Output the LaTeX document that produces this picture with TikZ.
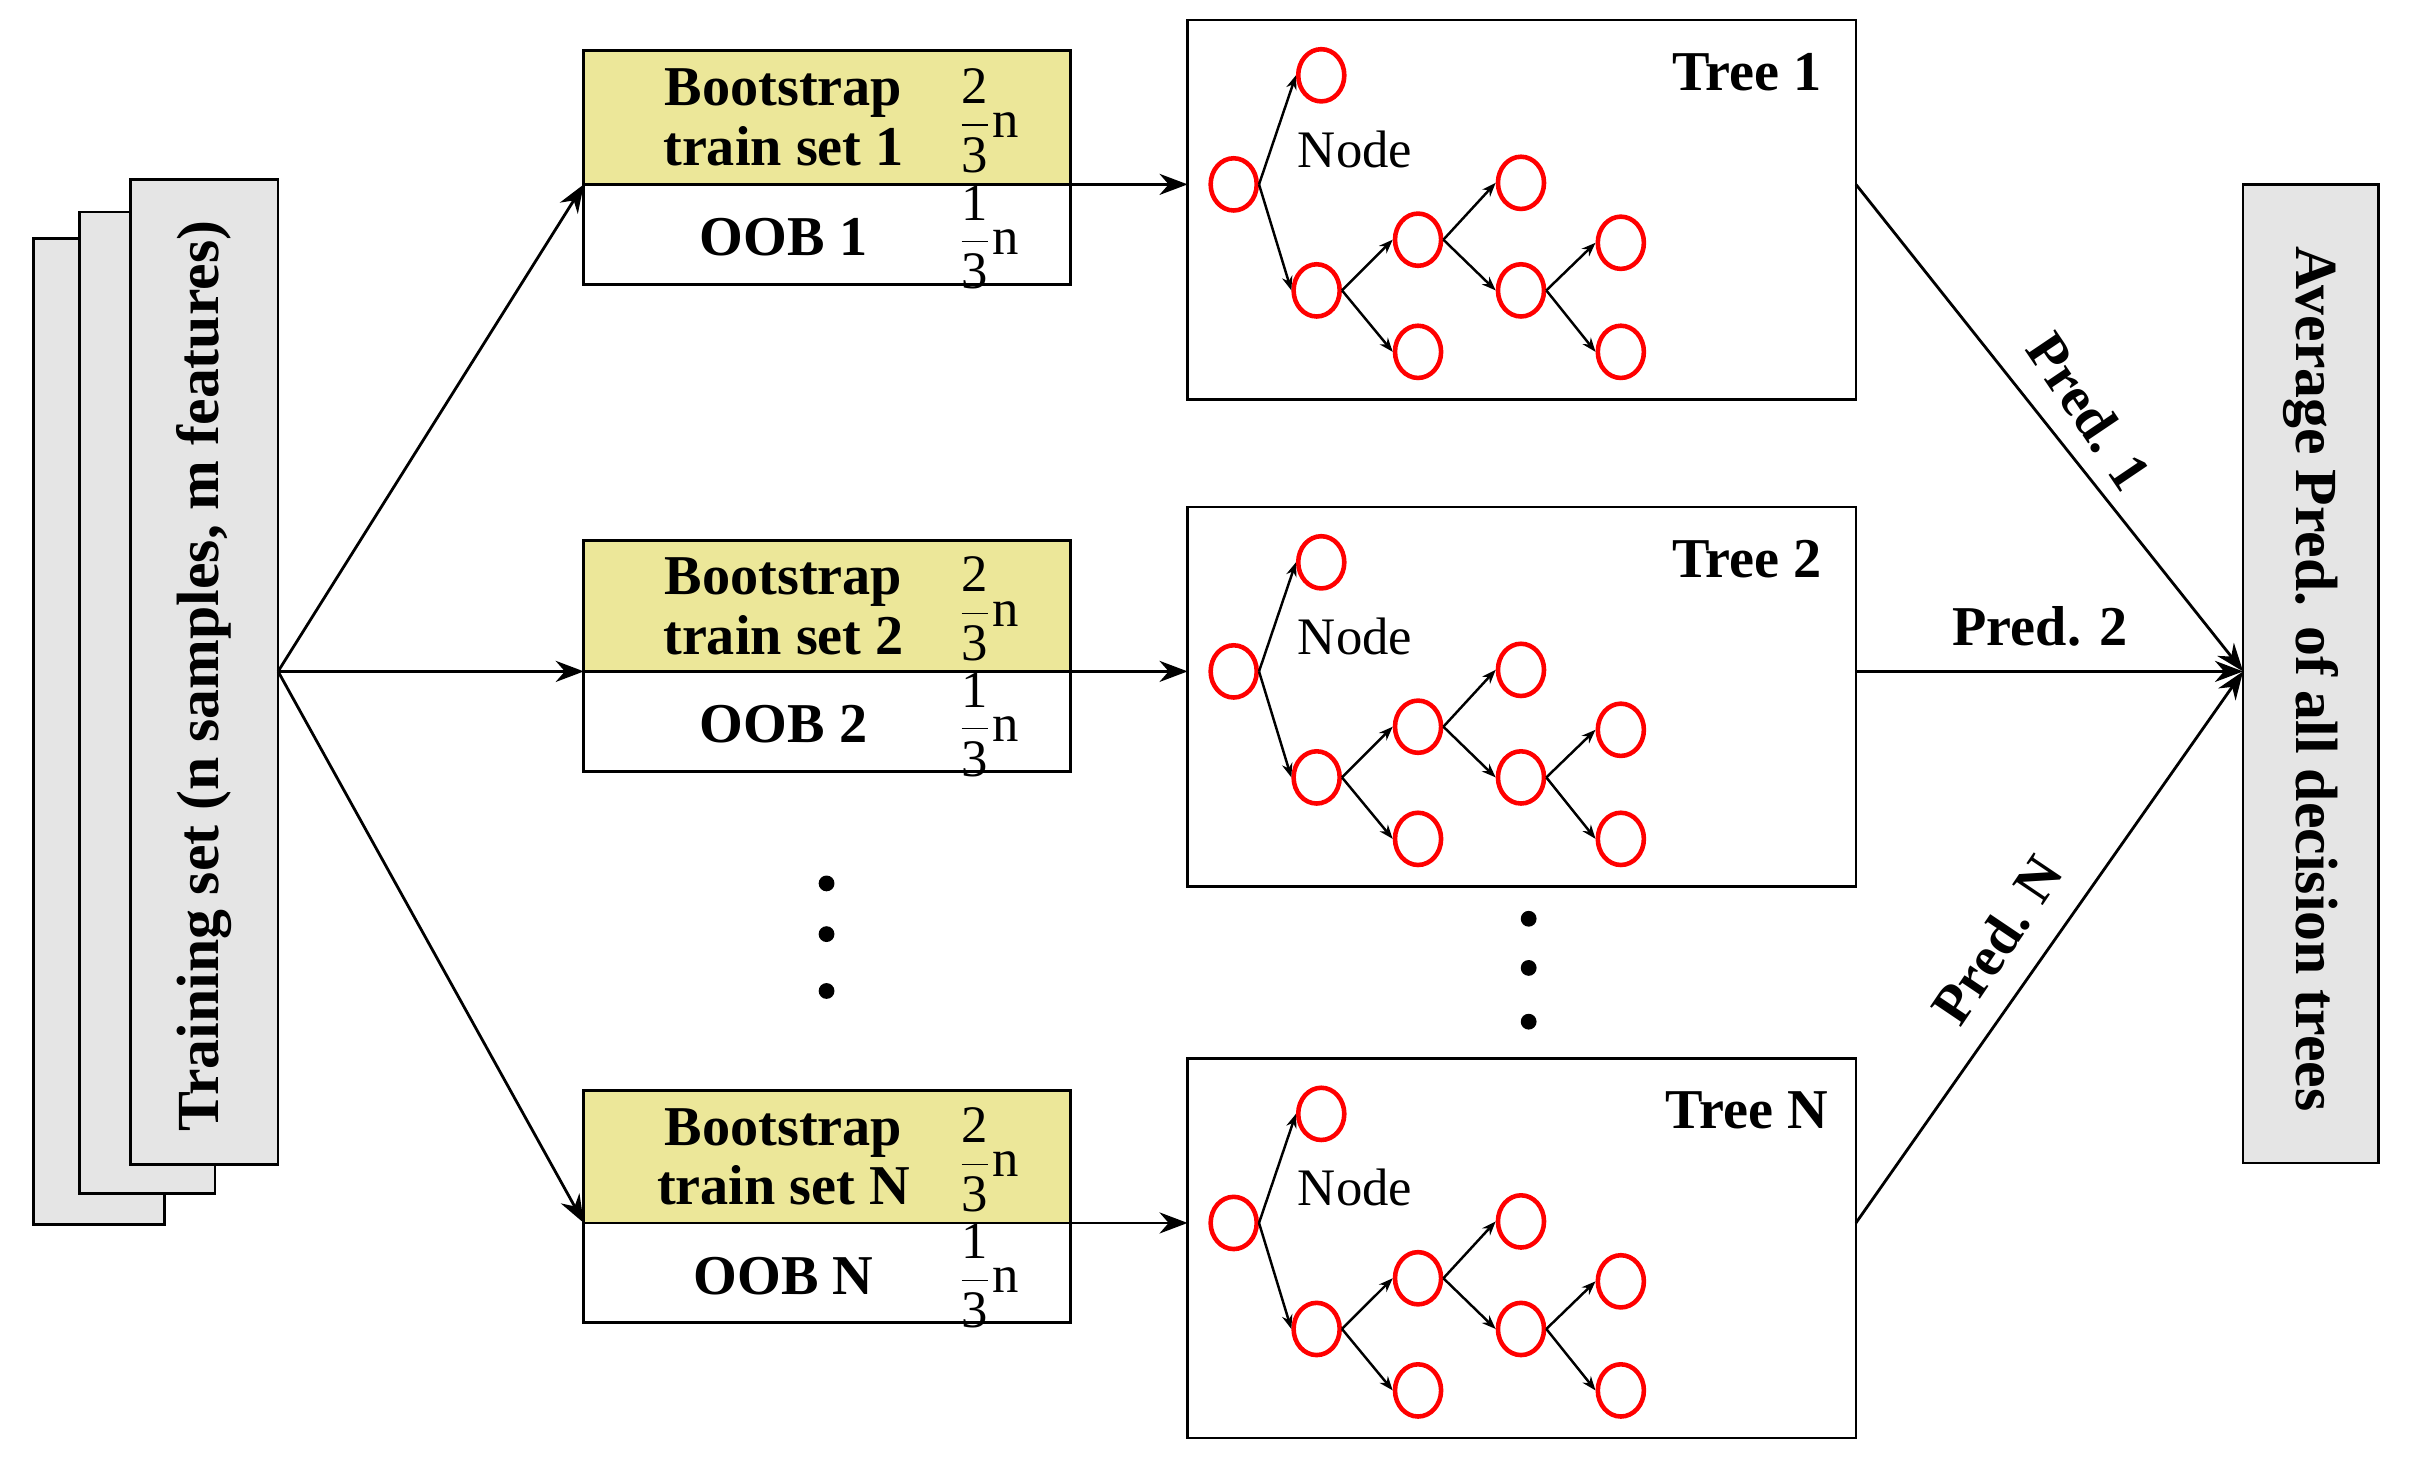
\documentclass[tikz,border=0pt]{standalone}
\usepackage{fontspec}
\setmainfont{Liberation Serif}
\usetikzlibrary{arrows.meta,shapes.geometric}
\begin{document}
\begin{tikzpicture}[x=0.01536cm,y=-0.01536cm,
  line width=0.8pt,
  sheet/.style={draw,fill=gray!20,line width=0.8pt},
  arr/.style={-{Stealth[length=8pt,width=6pt]}},
  small/.style={-{Stealth[length=4pt,width=3pt]},line width=0.7pt},
  tn/.style={draw=red,line width=1.3pt,ellipse,minimum width=30*0.01536cm,minimum height=34*0.01536cm,inner sep=0pt,fill=white},
  txt/.style={font=\fontsize{16}{18}\selectfont\bfseries},
  big/.style={font=\fontsize{17}{19}\selectfont\bfseries},
  frac/.style={font=\fontsize{15}{17}\selectfont,inner sep=0pt},
  dot/.style={circle,fill=black,inner sep=0pt,minimum size=4.5pt}]
\useasboundingbox (0,0) rectangle (1568,953);
% training stack
\draw[sheet] (22,155) rectangle (107,797);
\draw[sheet] (52,138) rectangle (140,777);
\draw[sheet] (85,117) rectangle (181,758);
\node[big,rotate=90] (train) at (133,440) {Training set (n samples, m features)};
\coordinate (fork) at (181,437);
% average box
\draw[sheet] (1460,120) rectangle (1548,757);
\node[big,rotate=-90] (avg) at (1504,442) {Average Pred. of all decision trees};
\coordinate (join) at (1460,437);
% bootstrap boxes
\foreach \t/\s/\b/\lab in {33/120/185/1,352/437/502/2,710/796/861/N}{
  \fill[yellow!50!olive!35] (380,\t) rectangle (697,\s);
  \draw (380,\t) rectangle (697,\b);
  \draw (380,\s) -- (697,\s);
  \node[txt,align=center] at (510,{(\t+\s)/2}) {Bootstrap\\[-1pt]train set \lab};
  \node[txt] at (510,{(\s+\b)/2+2}) {OOB \lab};
  \node[frac] at (643,{(\t+\s)/2+2}) {$\displaystyle\frac{\mathrm{2}}{\mathrm{3}}$n};
  \node[frac] at (643,{(\s+\b)/2+2}) {$\displaystyle\frac{\mathrm{1}}{\mathrm{3}}$n};
  \coordinate (bs\lab) at (380,\s);
  \coordinate (be\lab) at (697,\s);
}
\foreach \l in {1,2,N} \draw[arr] (fork) -- (bs\l);
% dots
\node[dot] (d1) at (538,575) {}; \node[dot] (d2) at (538,608) {}; \node[dot] (d3) at (538,645) {};
\node[dot] (e1) at (995,598) {}; \node[dot] (e2) at (995,630) {}; \node[dot] (e3) at (995,665) {};
% trees
\foreach \o/\lab in {0/1,317/2,676/N}{
  \begin{scope}[yshift={-\o*0.01536cm}]
  \draw (773,13) rectangle (1208,260);
  \coordinate (tl\lab) at (773,120);
  \coordinate (tr\lab) at (1208,120);
  \node[txt] at (1137,47) {Tree \lab};
  \node[font=\fontsize{15}{17}\selectfont] at (882,97) {Node};
  \node[tn] (r\lab) at (803,120) {};
  \node[tn] (a\lab) at (860,49) {};
  \node[tn] (b\lab) at (857,189) {};
  \node[tn] (c\lab) at (923,156) {};
  \node[tn] (dd\lab) at (923,229) {};
  \node[tn] (f\lab) at (990,119) {};
  \node[tn] (g\lab) at (990,189) {};
  \node[tn] (h\lab) at (1055,158) {};
  \node[tn] (k\lab) at (1055,229) {};
  \draw[small] (r\lab.east) -- (a\lab.west);
  \draw[small] (r\lab.east) -- (b\lab.west);
  \draw[small] (b\lab.east) -- (c\lab.west);
  \draw[small] (b\lab.east) -- (dd\lab.west);
  \draw[small] (c\lab.east) -- (f\lab.west);
  \draw[small] (c\lab.east) -- (g\lab.west);
  \draw[small] (g\lab.east) -- (h\lab.west);
  \draw[small] (g\lab.east) -- (k\lab.west);
  \end{scope}
}
\foreach \l in {1,2,N} {\draw[arr] (be\l) -- (tl\l); \draw[arr] (tr\l) -- (join);}
\node[txt,rotate=-56,inner sep=0pt] at (1360,268) {Pred. 1};
\node[txt] at (1328,408) {Pred. 2};
\node[txt,rotate=56,inner sep=0pt] at (1300,612) {Pred. N};
\end{tikzpicture}
\end{document}
